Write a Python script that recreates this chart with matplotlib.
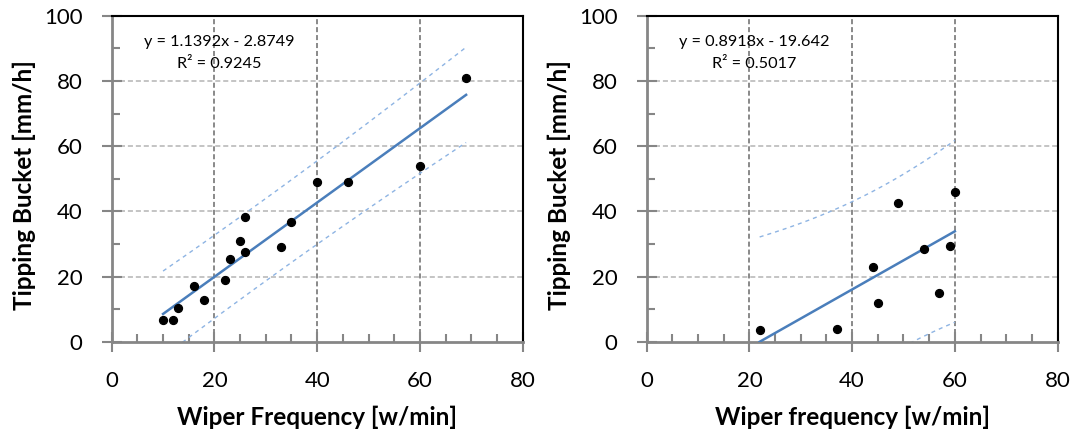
import numpy as np
import matplotlib
matplotlib.use("Agg")
import matplotlib.pyplot as plt

plt.rcParams['font.family'] = ['Lato', 'DejaVu Sans']

# ---- data ----
left_x = [10, 12, 13, 16, 18, 22, 23, 25, 26, 26, 33, 35, 40, 46, 60, 69]
left_y = [6.8, 6.8, 10.2, 17.0, 12.8, 18.8, 25.5, 30.8, 38.3, 27.4, 29.0, 36.7, 48.9, 48.9, 53.9, 80.9]
left_slope, left_icpt = 1.1392, -2.8749
left_eq = ["y = 1.1392x - 2.8749", "R² = 0.9245"]

right_x = [22, 37, 44, 45, 49, 54, 57, 59, 60]
right_y = [3.5, 3.9, 22.9, 11.9, 42.6, 28.4, 14.9, 29.4, 45.9]
right_slope, right_icpt = 0.8918, -19.642
right_eq = ["y = 0.8918x - 19.642", "R² = 0.5017"]

T_VALUE = 2.145  # multiplier of the prediction band

x_ticks = [0, 20, 40, 60, 80]
y_ticks = [0, 20, 40, 60, 80, 100]
x_labels = ["Wiper Frequency [w/min]", "Wiper frequency [w/min]"]
y_label = "Tipping Bucket [mm/h]"

GREY = '#868686'
LINE_BLUE = '#4a7ebb'
BAND_BLUE = '#8eb4e3'

fig = plt.figure(figsize=(10.74, 4.32), dpi=100)
ax_w, ax_h = 0.3826, 0.7546
ax_b = 0.209
axes = [fig.add_axes([0.1040, ax_b, ax_w, ax_h]),
        fig.add_axes([0.6021, ax_b, ax_w, ax_h])]

panels = [
    (left_x, left_y, left_slope, left_icpt, left_eq, x_labels[0]),
    (right_x, right_y, right_slope, right_icpt, right_eq, x_labels[1]),
]

for ax, (xs, ys, m, b, eq, xl) in zip(axes, panels):
    xs = np.asarray(xs, float)
    ys = np.asarray(ys, float)
    n = len(xs)
    ax.set_xlim(0, 80)
    ax.set_ylim(0, 100)

    # grid
    for gx in x_ticks[1:-1]:
        ax.axvline(gx, color='#808080', lw=1.3, ls=(0, (2.8, 1.6)), zorder=1)
    for gy in y_ticks[1:-1]:
        ax.axhline(gy, color='#bfbfbf', lw=1.3, ls=(0, (2.8, 1.6)), zorder=1)

    # fit + prediction band
    xf = np.linspace(xs.min(), xs.max(), 200)
    yf = m * xf + b
    resid = ys - (m * xs + b)
    s = np.sqrt(np.sum(resid ** 2) / (n - 2))
    xbar = xs.mean()
    sxx = np.sum((xs - xbar) ** 2)
    half = T_VALUE * s * np.sqrt(1 + 1.0 / n + (xf - xbar) ** 2 / sxx)
    ax.plot(xf, yf + half, color=BAND_BLUE, lw=1.0, ls=(0, (2.9, 2.9)), zorder=2)
    ax.plot(xf, yf - half, color=BAND_BLUE, lw=1.0, ls=(0, (2.9, 2.9)), zorder=2)
    ax.plot(xf, yf, color=LINE_BLUE, lw=1.8, zorder=3)

    ax.scatter(xs, ys, s=32, color='black', zorder=4, clip_on=False)

    ax.text(21, 92, eq[0], ha='center', va='center', fontsize=11.7)
    ax.text(21, 85.3, eq[1], ha='center', va='center', fontsize=11.7)

    # spines
    for side in ('left', 'bottom'):
        ax.spines[side].set_color(GREY)
        ax.spines[side].set_linewidth(2)
    for side in ('top', 'right'):
        ax.spines[side].set_color('black')
        ax.spines[side].set_linewidth(1.5)

    ax.set_xticks(x_ticks)
    ax.set_yticks(y_ticks)
    ax.set_xticks(np.arange(0, 81, 5), minor=True)
    ax.set_yticks(np.arange(0, 101, 10), minor=True)
    ax.tick_params(which='major', direction='inout', length=14, width=1.5,
                   color=GREY, labelsize=16, pad=14.0, labelcolor='black')
    ax.tick_params(which='minor', direction='in', length=6, width=1.5, color=GREY)

    ax.set_xlabel(xl, fontsize=17.5, fontweight='bold')
    ax.xaxis.set_label_coords(0.5, (341.7 - 417) / 326.0)
    ax.xaxis.label.set_verticalalignment('center')
    ax.set_ylabel(y_label, fontsize=17.5, fontweight='bold')
    ax.yaxis.set_label_coords(-0.2136, 0.48)
    ax.yaxis.label.set_verticalalignment('center')

fig.savefig('out.png', dpi=100)
